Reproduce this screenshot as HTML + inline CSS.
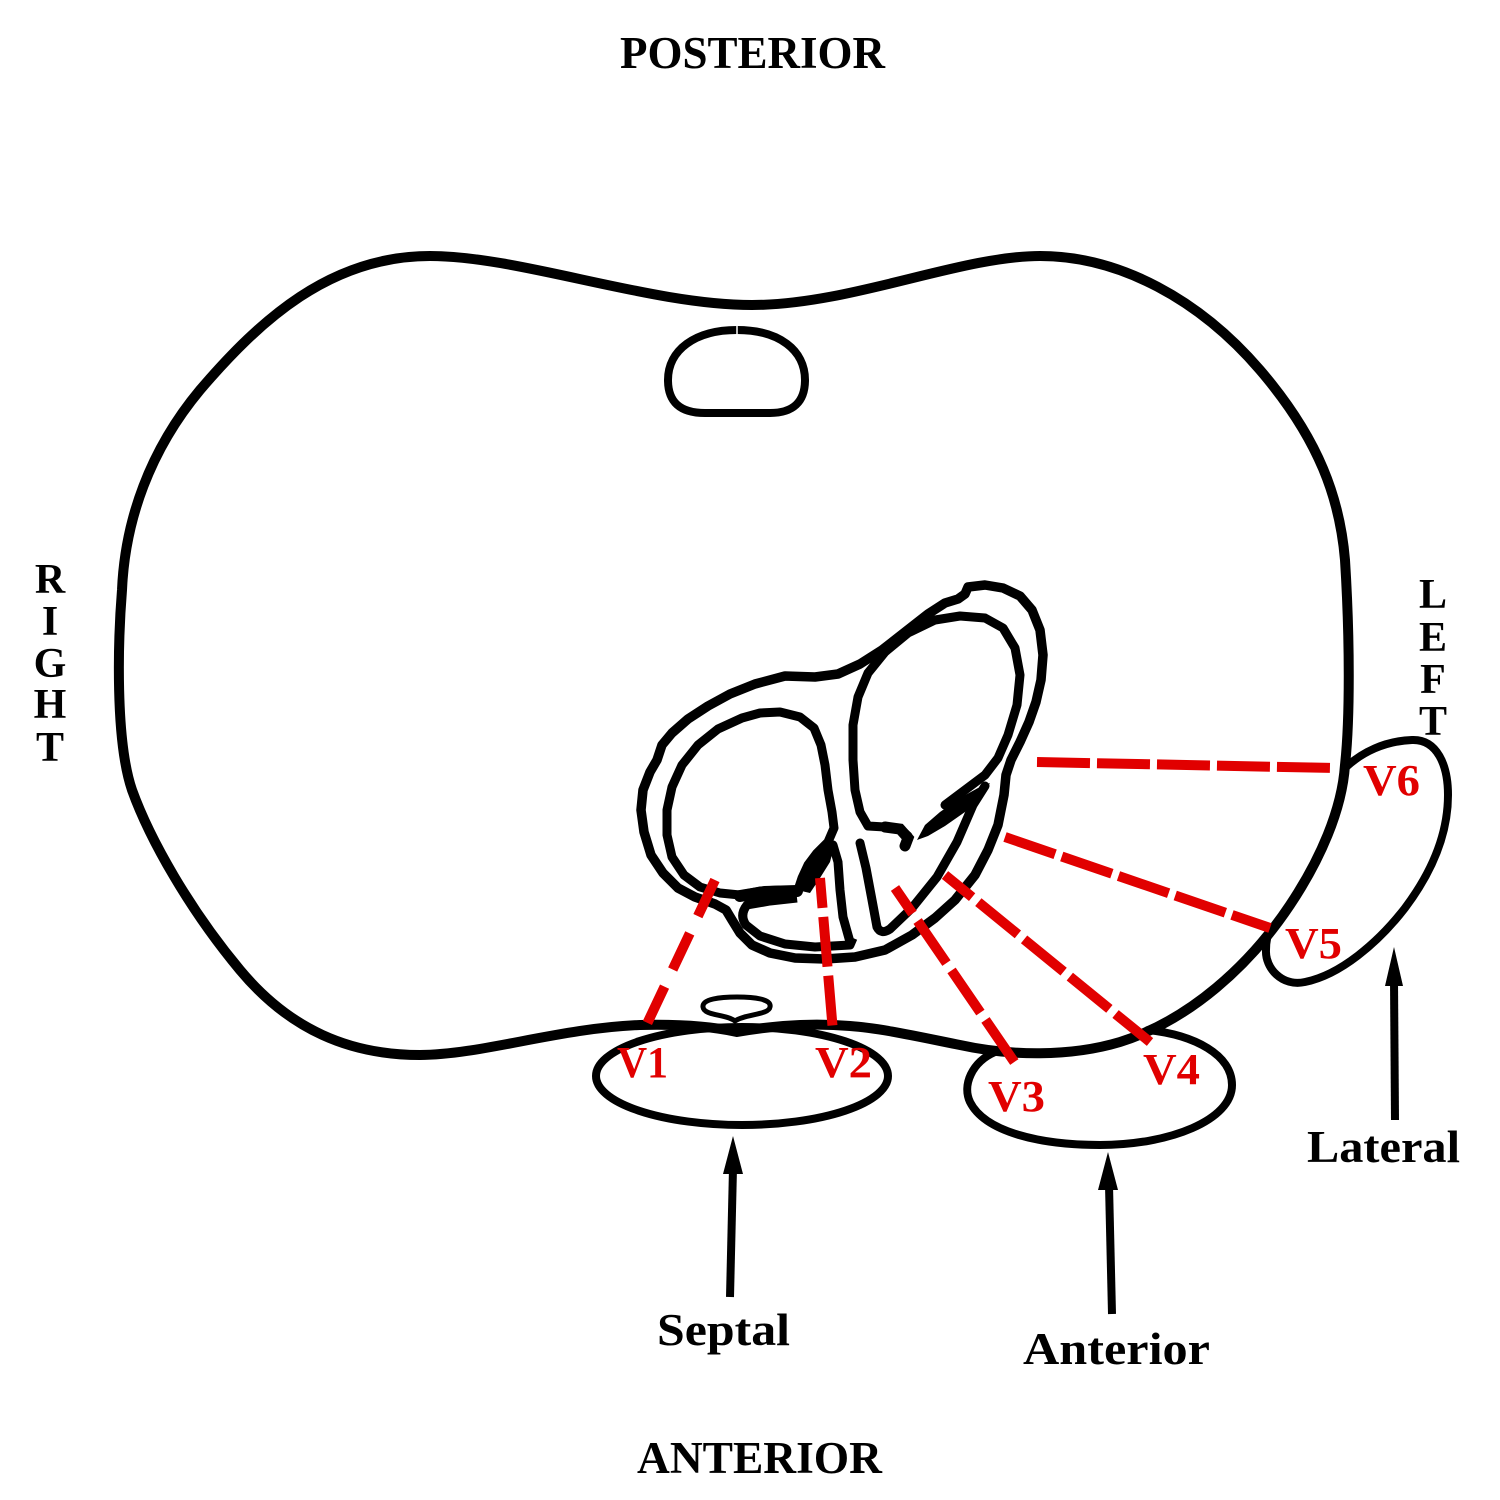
<!DOCTYPE html>
<html>
<head>
<meta charset="utf-8">
<style>
  html,body{margin:0;padding:0;background:#fff;}
  svg{display:block;}
  .lbl{font-family:"Liberation Serif",serif;font-weight:bold;fill:#000;}
  .v{font-family:"Liberation Serif",serif;font-weight:bold;fill:#e10000;font-size:44px;}
</style>
</head>
<body>
<svg width="1500" height="1500" viewBox="0 0 1500 1500" xmlns="http://www.w3.org/2000/svg">
  <rect width="1500" height="1500" fill="#fff"/>

  <!-- Body outline -->
  <path d="M430,256 C520,256 650,305 752,305 C850,305 960,256 1040,256
           C1120,256 1200,300 1260,370 C1320,440 1340,500 1345,560
           C1350,640 1350,720 1345,765 C1342,810 1320,860 1290,905
           C1250,965 1190,1020 1120,1042 C1070,1057 1010,1056 960,1045
           C920,1037 880,1028 850,1026 C800,1022 760,1028 737,1032
           C710,1026 680,1024 640,1025 C560,1028 480,1055 420,1055
           C350,1055 290,1030 240,970 C190,910 150,840 132,790
           C115,740 118,640 122,590 C125,520 150,450 200,390
           C260,320 330,256 430,256 Z"
        fill="none" stroke="#000" stroke-width="10" stroke-linejoin="round"/>

  <!-- Spine -->
  <path d="M737,330 C695,330 668,350 668,380 C668,402 680,413 705,413 L770,413 C793,413 805,402 805,380 C805,350 779,330 737,330 Z"
        fill="none" stroke="#000" stroke-width="8"/>
  <line x1="737" y1="324" x2="737" y2="336" stroke="#fff" stroke-width="1.5"/>

  <!-- Sternum -->
  <path d="M735,1021 C726,1014 704,1016 703,1007 C702,999 720,997 737,997 C754,997 772,999 770,1007 C769,1015 745,1014 735,1021 Z"
        fill="none" stroke="#000" stroke-width="5"/>

  <!-- Heart outer -->
  <path d="M968,587 L985,585 L1003,588 L1020,596 L1032,610 L1040,630 L1043,655 L1041,680 L1036,702 L1029,722 L1020,742 L1011,760 L1006,775 L1004,795 L998,825 L988,850 L975,875 L955,900 L935,918 L912,935 L885,950 L855,957 L825,959 L795,958 L770,953 L752,945 L740,933 L732,920 L726,910 L715,904 L695,897 L678,888 L663,873 L651,855 L644,832 L641,810 L643,790 L650,772 L657,760 L662,745 L672,733 L688,719 L708,706 L730,694 L755,684 L785,676 L815,677 L838,674 L860,664 L882,650 L905,632 L928,614 L945,603 L958,599 L965,594 Z"
        fill="none" stroke="#000" stroke-width="9.5" stroke-linejoin="round"/>

  <!-- RV chamber -->
  <path d="M780,712 L800,717 L814,728 L821,745 L825,765 L828,790 L832,812 L834,828 L828,842 L817,853 L808,865 L802,878 L798,890 L780,890 L760,891 L740,895 L720,893 L700,887 L684,875 L672,857 L667,835 L667,810 L672,787 L682,765 L698,745 L718,729 L742,718 L760,713 Z"
        fill="none" stroke="#000" stroke-width="9" stroke-linejoin="round"/>
  <path d="M740,896 L765,892 L797,891" fill="none" stroke="#000" stroke-width="12" stroke-linecap="round"/>
  <!-- RV wedge -->
  <polygon points="797,890 803,868 812,858 822,851 835,843 830,862 820,878 810,893" fill="#000"/>

  <!-- lower chamber -->
  <path d="M797,898 L770,901 L747,905 Q739,915 746,925 L760,936 L785,944 L815,947 L850,945 L853,938"
        fill="none" stroke="#000" stroke-width="9" stroke-linejoin="round"/>
  <!-- septum left line -->
  <path d="M833,845 L838,862 L840,890 L843,917 L850,942" fill="none" stroke="#000" stroke-width="9" stroke-linecap="round"/>
  <!-- septum right + LV lower wall -->
  <path d="M860,843 L866,868 L872,900 L877,927 Q881,935 890,929 L912,908 L937,877 L957,842 L973,805 L985,786"
        fill="none" stroke="#000" stroke-width="9" stroke-linejoin="round" stroke-linecap="round"/>

  <!-- LV chamber -->
  <path d="M905,845 L908,836 L900,829 L885,827 L868,826 L860,812 L855,790 L853,760 L853,725 L858,697 L868,673 L885,652 L908,633 L935,620 L960,616 L985,618 L1003,628 L1015,648 L1020,675 L1017,705 L1008,735 L998,758 L985,775 L965,790 L945,805"
        fill="none" stroke="#000" stroke-width="9" stroke-linejoin="round" stroke-linecap="round"/>
  <path d="M885,827 L900,829 L908,838 L905,846" fill="none" stroke="#000" stroke-width="11" stroke-linecap="round"/>
  <!-- mitral wedge -->
  <polygon points="917,840 925,825 940,812 960,798 978,788 990,783 982,797 965,812 945,826 928,836" fill="#000"/>

  <!-- Electrode ellipses -->
  <ellipse cx="742" cy="1076" rx="146" ry="49" fill="none" stroke="#000" stroke-width="8"/>
  <path d="M995,1052 C972,1062 962,1085 970,1102 C985,1132 1040,1145 1100,1145 C1170,1145 1232,1120 1232,1085 C1232,1055 1195,1035 1148,1030"
        fill="none" stroke="#000" stroke-width="8" stroke-linecap="round"/>
  <path d="M1345,768 C1362,752 1385,741 1412,740 C1437,739 1448,765 1448,795 C1448,835 1432,872 1405,908 C1378,943 1340,975 1305,982 C1282,987 1265,968 1266,950 C1266,940 1268,933 1271,928"
        fill="none" stroke="#000" stroke-width="8" stroke-linecap="round"/>

  <!-- Red dashed lead lines -->
  <g stroke="#e10000" stroke-width="10" fill="none">
    <line x1="715" y1="880" x2="645" y2="1028" stroke-dasharray="40 19"/>
    <line x1="820" y1="878" x2="833" y2="1032" stroke-dasharray="50 9" stroke-dashoffset="20"/>
    <line x1="895" y1="888" x2="1015" y2="1063" stroke-dasharray="51 9" stroke-dashoffset="20"/>
    <line x1="945" y1="875" x2="1150" y2="1042" stroke-dasharray="51 8" stroke-dashoffset="16"/>
    <line x1="1005" y1="837" x2="1270" y2="928" stroke-dasharray="53 7"/>
    <line x1="1037" y1="762" x2="1335" y2="768" stroke-dasharray="53 7"/>
  </g>

  <!-- Arrows -->
  <line x1="730" y1="1297" x2="733" y2="1168" stroke="#000" stroke-width="8"/>
  <polygon points="733,1136 723,1174 743,1174" fill="#000"/>
  <line x1="1112" y1="1314" x2="1109" y2="1185" stroke="#000" stroke-width="8"/>
  <polygon points="1108,1152 1098,1190 1118,1190" fill="#000"/>
  <line x1="1395" y1="1120" x2="1394" y2="980" stroke="#000" stroke-width="8"/>
  <polygon points="1394,947 1385,986 1403,986" fill="#000"/>

  <!-- V labels -->
  <text class="v" x="617" y="1077" textLength="51" lengthAdjust="spacingAndGlyphs">V1</text>
  <text class="v" x="815" y="1077" textLength="57" lengthAdjust="spacingAndGlyphs">V2</text>
  <text class="v" x="988" y="1111" textLength="57" lengthAdjust="spacingAndGlyphs">V3</text>
  <text class="v" x="1143" y="1084" textLength="57" lengthAdjust="spacingAndGlyphs">V4</text>
  <text class="v" x="1285" y="958" textLength="57" lengthAdjust="spacingAndGlyphs">V5</text>
  <text class="v" x="1363" y="795" textLength="57" lengthAdjust="spacingAndGlyphs">V6</text>

  <!-- Labels -->
  <text class="lbl" x="620" y="68" font-size="45" textLength="265" lengthAdjust="spacingAndGlyphs">POSTERIOR</text>
  <text class="lbl" x="637" y="1473" font-size="45" textLength="245" lengthAdjust="spacingAndGlyphs">ANTERIOR</text>
  <text class="lbl" x="657" y="1345" font-size="45" textLength="133" lengthAdjust="spacingAndGlyphs">Septal</text>
  <text class="lbl" x="1023" y="1364" font-size="45" textLength="187" lengthAdjust="spacingAndGlyphs">Anterior</text>
  <text class="lbl" x="1307" y="1162" font-size="45" textLength="153" lengthAdjust="spacingAndGlyphs">Lateral</text>

  <g class="lbl" font-size="42" text-anchor="middle">
    <text x="50" y="593">R</text>
    <text x="50" y="635">I</text>
    <text x="50" y="677">G</text>
    <text x="50" y="718">H</text>
    <text x="50" y="761">T</text>
    <text x="1433" y="608">L</text>
    <text x="1433" y="651">E</text>
    <text x="1433" y="693">F</text>
    <text x="1433" y="735">T</text>
  </g>
</svg>
</body>
</html>
